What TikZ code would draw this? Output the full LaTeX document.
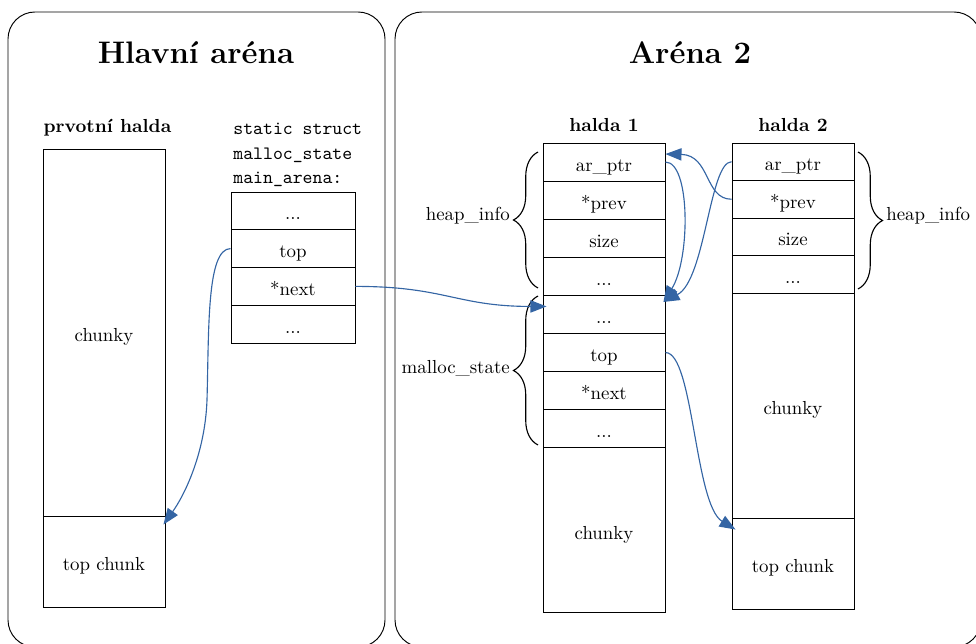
\documentclass[tikz,border=0pt]{standalone}
\usetikzlibrary{calc,decorations.pathreplacing,arrows.meta}
\definecolor{arrowblue}{RGB}{52,101,164}
\begin{document}
\begin{tikzpicture}[x=0.53pt,y=-0.53pt,
  panel/.style={draw, line width=0.5pt, rounded corners=14.3pt},
  cell/.style={draw, line width=0.5pt, inner sep=0pt, text height=9.5pt, text depth=0pt, minimum width=64.66pt},
  hone/.style={cell, minimum height=20.19pt},
  htwo/.style={cell, minimum height=19.875pt},
  marow/.style={cell, minimum width=65.72pt, minimum height=20.01pt},
  titletext/.style={font=\fontsize{16.5pt}{20pt}\selectfont\bfseries, inner sep=0pt},
  headtext/.style={font=\bfseries, inner sep=0pt},
  codetext/.style={font=\ttfamily, inner sep=0pt},
  curly/.style={decorate, decoration={brace, amplitude=13pt}, line width=0.6pt},
  arr/.style={draw=arrowblue, line width=0.6pt, -{Triangle[length=8.5pt,width=6.5pt]}}]
\useasboundingbox (0,0) rectangle (976,644);

% panels
\draw[panel] (8,12) rectangle (385,647);
\draw[panel] (395,12) rectangle (981,647);

% titles
\node[titletext, anchor=base] (t1) at (196,64) {Hlavní aréna};
\node[titletext, anchor=base] (t2) at (690,64) {Aréna 2};

% prvotni halda
\node[headtext, anchor=base] (ph) at (107.5,133) {prvotní halda};
\node[cell, minimum height=194.5pt] (pchunk) at (104,332.5) {chunky};
\node[cell, minimum height=48.23pt] (ptop) at (104,561.5) {top chunk};

% main arena
\node[codetext, anchor=base west] (c1) at (233,135) {static struct};
\node[codetext, anchor=base west] (c2) at (233,159.5) {malloc\_state};
\node[codetext, anchor=base west] (c3) at (233,184) {main\_arena:};
\node[marow] (ma1) at (293,210.9) {...};
\node[marow] (ma2) at (293,248.6) {top};
\node[marow] (ma3) at (293,286.4) {*next};
\node[marow] (ma4) at (293,324.1) {...};

% halda 1
\node[headtext, anchor=base] (hh1) at (604,132) {halda 1};
\node[hone] (h1r1) at (604,162.05) {ar\_ptr};
\node[hone] (h1r2) at (604,200.15) {*prev};
\node[hone] (h1r3) at (604,238.25) {size};
\node[hone] (h1r4) at (604,276.35) {...};
\node[hone] (h1r5) at (604,314.45) {...};
\node[hone] (h1r6) at (604,352.55) {top};
\node[hone] (h1r7) at (604,390.65) {*next};
\node[hone] (h1r8) at (604,428.75) {...};
\node[cell, minimum height=87.45pt] (h1ch) at (604,530.3) {chunky};

% halda 2
\node[headtext, anchor=base] (hh2) at (793,132) {halda 2};
\node[htwo] (h2r1) at (793,161.75) {ar\_ptr};
\node[htwo] (h2r2) at (793,199.25) {*prev};
\node[htwo] (h2r3) at (793,236.75) {size};
\node[htwo] (h2r4) at (793,274.25) {...};
\node[cell, minimum height=119.25pt] (h2ch) at (793,405.5) {chunky};
\node[cell, minimum height=48.23pt] (h2tc) at (793,563.5) {top chunk};

% braces
\draw[curly] (538,288) -- (538,152);
\node[anchor=east, inner sep=1pt] (hi1) at (512,216) {heap\_info};
\draw[curly] (538,445) -- (538,296);
\node[anchor=east, inner sep=1pt] (ms) at (512,368) {malloc\_state};
\draw[curly] (858,152) -- (858,289);
\node[anchor=west, inner sep=1pt] (hi2) at (884,216) {heap\_info};

% connectors
\coordinate (bend1) at (207,400);
\draw[arr] (ma2.west) .. controls +(-24,0) and +(2,-70) .. (bend1)
  .. controls +(-2,55) and +(20,-28) .. ($(ptop.north east)+(-2,9)$);
\draw[arr] (ma3.east) .. controls +(90,0) and +(-90,0) .. ($(h1r5.west)+(4,-8)$);
\draw[arr] (h1r1.east) .. controls +(25,0) and +(27,-43) .. ($(h1r5.north east)+(-2,7)$);
\draw[arr] (h2r1.west) .. controls +(-22,0) and +(42,-22) .. ($(h1r5.north east)+(-2,7)$);
\draw[arr] (h2r2.west) .. controls +(-27,0) and +(45,1) .. ($(h1r1.east)+(0,-8)$);
\draw[arr] (h1r6.east) .. controls +(28,0) and +(-41,-25) .. ($(h2tc.north west)+(4,12)$);
\end{tikzpicture}
\end{document}
